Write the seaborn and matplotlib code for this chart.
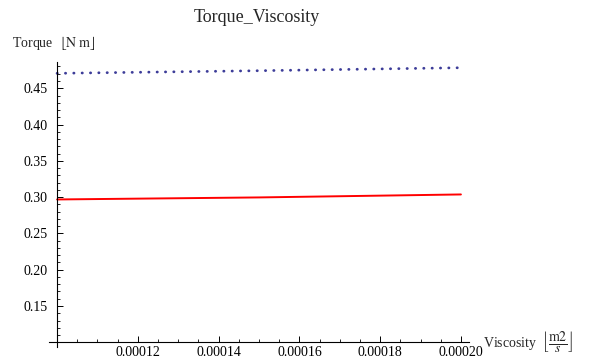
import matplotlib
matplotlib.use("Agg")
import matplotlib.pyplot as plt
import seaborn as sns
import numpy as np
import pandas as pd
from matplotlib.ticker import FixedLocator, FixedFormatter

# ---- data ----
viscosity = [0.00010, 0.00015, 0.00020]
torque_red = [0.2968, 0.2996, 0.3037]
torque_blue = [0.4706, 0.4742, 0.4783]

x_major = [0.00012, 0.00014, 0.00016, 0.00018, 0.00020]
x_major_labels = ["0.00012", "0.00014", "0.00016", "0.00018", "0.00020"]
y_major = [0.15, 0.20, 0.25, 0.30, 0.35, 0.40, 0.45]
y_major_labels = ["0.15", "0.20", "0.25", "0.30", "0.35", "0.40", "0.45"]

sns.set_style("white")
plt.rcParams["font.family"] = ["Liberation Serif", "DejaVu Serif"]
plt.rcParams["mathtext.fontset"] = "stix"

fig = plt.figure(figsize=(5.9, 3.6), dpi=100)
ax = fig.add_axes([49 / 590, 13 / 360, 420 / 590, 285 / 360])
ax.patch.set_alpha(0)

df = pd.DataFrame({"viscosity": viscosity, "red": torque_red, "blue": torque_blue})
sns.lineplot(data=df, x="viscosity", y="blue", ax=ax, color="#3d3d99",
             linewidth=2.0, linestyle=(0, (0.1, 2.9)), dash_capstyle="round")
sns.lineplot(data=df, x="viscosity", y="red", ax=ax, color="#ff0000", linewidth=1.4)

ax.set_xlim(0.000098, 0.000202)
ax.set_ylim(0.0935, 0.4862)

for s in ["top", "right"]:
    ax.spines[s].set_visible(False)
ax.spines["left"].set_position(("data", 0.0001))
ax.spines["bottom"].set_position(("data", 0.1))
for s in ["left", "bottom"]:
    ax.spines[s].set_color("black")
    ax.spines[s].set_linewidth(0.8)

ax.xaxis.set_major_locator(FixedLocator(x_major))
ax.xaxis.set_major_formatter(FixedFormatter(x_major_labels))
ax.yaxis.set_major_locator(FixedLocator(y_major))
ax.yaxis.set_major_formatter(FixedFormatter(y_major_labels))
ax.xaxis.set_minor_locator(FixedLocator([0.0001 + 0.000005 * i for i in range(1, 21)]))
ax.yaxis.set_minor_locator(FixedLocator([round(0.11 + 0.01 * i, 2) for i in range(0, 38)]))

ax.tick_params(axis="both", which="both", left=True, bottom=True, top=False, right=False)
ax.tick_params(axis="both", which="major", direction="in", length=4, width=0.7,
               colors="black", labelsize=10)
ax.tick_params(axis="both", which="minor", direction="in", length=2.2, width=0.6,
               colors="black")
ax.tick_params(axis="y", which="major", pad=7)
ax.tick_params(axis="x", which="major", pad=2.5)
ax.set_xlabel("")
ax.set_ylabel("")

fig.text(257 / 590, 1 - 17 / 360, "Torque_Viscosity", ha="center", va="center",
         fontsize=13)
fig.text(12 / 590, 1 - 43 / 360, r"Torque  $\lfloor\mathrm{N\ m}\rfloor$",
         ha="left", va="center", fontsize=10)
fig.text(483 / 590, 1 - 342 / 360,
         r"Viscosity  $\left\lfloor\dfrac{\mathrm{m2}}{s}\right\rfloor$",
         ha="left", va="center", fontsize=10)

fig.savefig("out.png", dpi=100)
